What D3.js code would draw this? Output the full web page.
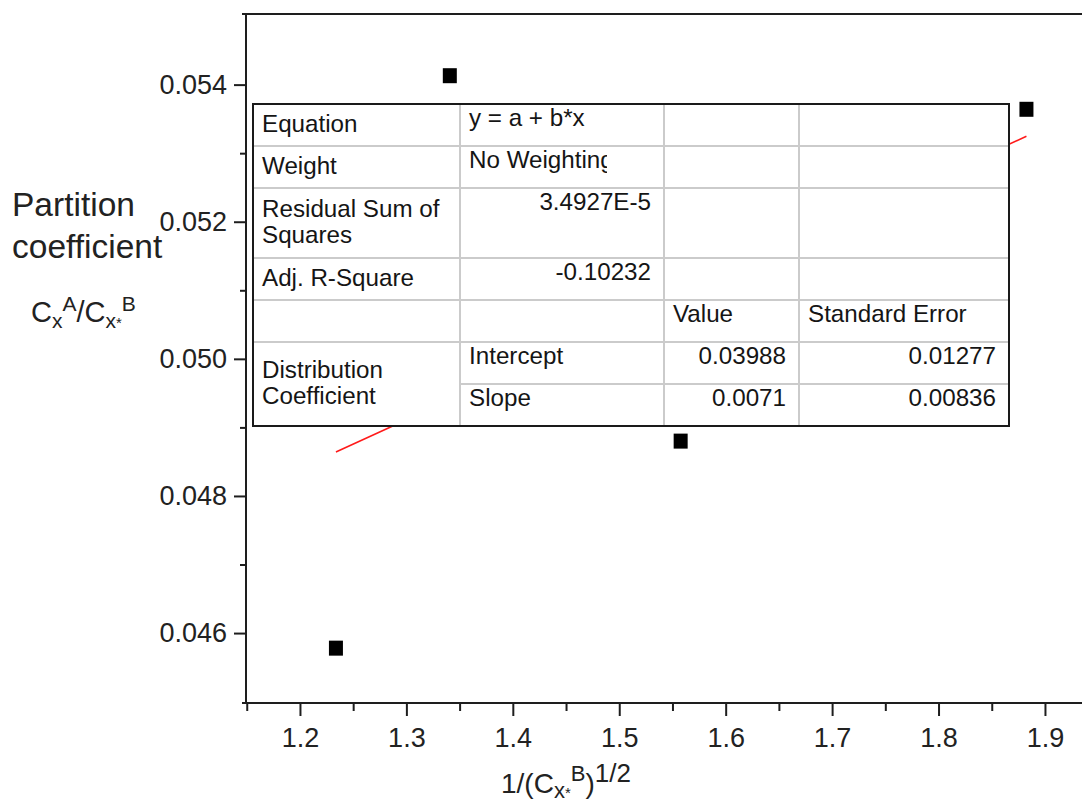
<!DOCTYPE html>
<html>
<head>
<meta charset="utf-8">
<script src="https://cdn.jsdelivr.net/npm/d3@7"></script>
<style>
    html, body { margin: 0; padding: 0; background: #fff; overflow: hidden; }
    svg { display: block; font-family: "Liberation Sans", Arial, sans-serif; }
</style>
</head>
<body>
<div id="chart"></div>
<script>
// measured points
const xValues = [1.2338, 1.3408, 1.5577, 1.8826];
const yValues = [0.04578, 0.05413, 0.04880, 0.05364];

// ticks
const xMajorTicks = [1.2, 1.3, 1.4, 1.5, 1.6, 1.7, 1.8, 1.9];
const xMinorTicks = [1.15, 1.25, 1.35, 1.45, 1.55, 1.65, 1.75, 1.85];
const yMajorTicks = [0.046, 0.048, 0.050, 0.052, 0.054];
const yMinorTicks = [0.047, 0.049, 0.051, 0.053];

// linear fit results
const fitIntercept = 0.03988;
const fitSlope = 0.0071;
const fitEquation = "y = a + b*x";
const fitWeight = "No Weighting";
const fitRss = "3.4927E-5";
const fitAdjR2 = "-0.10232";
const fitValues = ["0.03988", "0.0071"];
const fitErrors = ["0.01277", "0.00836"];

const W = 1082, H = 803;
const plot = { left: 246, right: 1082, top: 14, bottom: 703 };

const svg = d3.select("#chart").append("svg")
    .attr("width", W)
    .attr("height", H);

const x = d3.scaleLinear()
    .domain([1.1493, 1.9348])
    .range([plot.left, plot.right]);

const y = d3.scaleLinear()
    .domain([0.04498, 0.05503])
    .range([plot.bottom, plot.top]);

const axisColor = "#1e1e1e";

// y axis ticks
const yMajor = svg.append("g")
    .attr("transform", `translate(${plot.left},0)`)
    .call(d3.axisLeft(y).tickValues(yMajorTicks).tickSize(12).tickPadding(7)
        .tickFormat(d3.format(".3f")));
const yMinor = svg.append("g")
    .attr("transform", `translate(${plot.left},0)`)
    .call(d3.axisLeft(y).tickValues(yMinorTicks).tickSize(6).tickFormat(""));

// x axis ticks
const xMajor = svg.append("g")
    .attr("transform", `translate(0,${plot.bottom})`)
    .call(d3.axisBottom(x).tickValues(xMajorTicks).tickSize(13).tickPadding(12)
        .tickFormat(d3.format(".1f")));
const xMinor = svg.append("g")
    .attr("transform", `translate(0,${plot.bottom})`)
    .call(d3.axisBottom(x).tickValues(xMinorTicks).tickSize(8).tickFormat(""));

[yMajor, yMinor, xMajor, xMinor].forEach(g => {
    g.select(".domain").remove();
    g.selectAll(".tick line").attr("stroke", axisColor).attr("stroke-width", 2);
    g.selectAll(".tick text")
        .attr("fill", "#222")
        .style("font-size", "27px")
        .style("font-family", "'Liberation Sans', Arial, sans-serif");
});

// frame
svg.append("line").attr("x1", plot.left).attr("x2", plot.left).attr("y1", plot.top - 1).attr("y2", plot.bottom + 1)
    .attr("stroke", axisColor).attr("stroke-width", 2);
svg.append("line").attr("x1", plot.left - 4).attr("x2", plot.right).attr("y1", plot.bottom).attr("y2", plot.bottom)
    .attr("stroke", axisColor).attr("stroke-width", 2);
svg.append("line").attr("x1", plot.left - 4).attr("x2", plot.right).attr("y1", plot.top).attr("y2", plot.top)
    .attr("stroke", axisColor).attr("stroke-width", 2);

// fit line
const xExt = d3.extent(xValues);
svg.append("line")
    .attr("x1", x(xExt[0])).attr("y1", y(fitIntercept + fitSlope * xExt[0]))
    .attr("x2", x(xExt[1])).attr("y2", y(fitIntercept + fitSlope * xExt[1]))
    .attr("stroke", "#ff1a1a")
    .attr("stroke-width", 1.6);

// results table
const colX = [253, 460, 664, 799, 1009];
const rowY = [104, 146, 188, 258, 300, 342, 384, 426];

const cells = [
    { r: 0, c: 0, lines: ["Equation"] },
    { r: 0, c: 1, lines: [fitEquation] },
    { r: 1, c: 0, lines: ["Weight"] },
    { r: 1, c: 1, lines: [fitWeight], clip: true },
    { r: 2, c: 0, lines: ["Residual Sum of", "Squares"] },
    { r: 2, c: 1, lines: [fitRss], end: true },
    { r: 3, c: 0, lines: ["Adj. R-Square"] },
    { r: 3, c: 1, lines: [fitAdjR2], end: true },
    { r: 4, c: 2, lines: ["Value"] },
    { r: 4, c: 3, lines: ["Standard Error"] },
    { r: 5, c: 0, rs: 2, lines: ["Distribution", "Coefficient"] },
    { r: 5, c: 1, lines: ["Intercept"] },
    { r: 5, c: 2, lines: [fitValues[0]], end: true },
    { r: 5, c: 3, lines: [fitErrors[0]], end: true },
    { r: 6, c: 1, lines: ["Slope"] },
    { r: 6, c: 2, lines: [fitValues[1]], end: true },
    { r: 6, c: 3, lines: [fitErrors[1]], end: true }
];

const table = svg.append("g").attr("class", "fit-table");

table.append("rect")
    .attr("x", colX[0]).attr("y", rowY[0])
    .attr("width", colX[4] - colX[0]).attr("height", rowY[7] - rowY[0])
    .attr("fill", "#fff");

const gridColor = "#cbcbcb";
colX.slice(1, 4).forEach(cx => {
    table.append("line").attr("x1", cx).attr("x2", cx).attr("y1", rowY[0]).attr("y2", rowY[7])
        .attr("stroke", gridColor).attr("stroke-width", 2);
});
rowY.slice(1, 7).forEach((ry, i) => {
    const x0 = (i + 1 === 6) ? colX[1] : colX[0];
    table.append("line").attr("x1", x0).attr("x2", colX[4]).attr("y1", ry).attr("y2", ry)
        .attr("stroke", gridColor).attr("stroke-width", 2);
});

table.append("rect")
    .attr("x", colX[0]).attr("y", rowY[0])
    .attr("width", colX[4] - colX[0]).attr("height", rowY[7] - rowY[0])
    .attr("fill", "none")
    .attr("stroke", "#1a1a1a")
    .attr("stroke-width", 2);

// the weighting text is cut short, as in the source table
svg.append("defs").append("clipPath").attr("id", "weight-clip")
    .append("rect").attr("x", colX[1]).attr("y", rowY[1]).attr("width", 607 - colX[1]).attr("height", rowY[2] - rowY[1]);

cells.forEach(d => {
    const rs = d.rs || 1;
    const y0 = rowY[d.r], y1 = rowY[d.r + rs];
    const tx = d.end ? colX[d.c + 1] - 13 : colX[d.c] + 9;
    let by;
    if (d.c === 0) {
        by = (y0 + y1) / 2 + 7 - (d.lines.length - 1) * 13;
    } else {
        by = y0 + 22;
    }
    const t = table.append("text")
        .attr("x", tx)
        .attr("y", by)
        .attr("text-anchor", d.end ? "end" : "start")
        .attr("fill", "#151515")
        .style("font-size", "24.2px");
    if (d.clip) t.attr("clip-path", "url(#weight-clip)");
    d.lines.forEach((ln, i) => {
        t.append("tspan").attr("x", tx).attr("dy", i === 0 ? 0 : 26).text(ln);
    });
});

// points
svg.append("g").selectAll("rect")
    .data(xValues.map((v, i) => ({ x: v, y: yValues[i] })))
    .join("rect")
    .attr("x", d => x(d.x) - 7)
    .attr("y", d => y(d.y) - 7.5)
    .attr("width", 14)
    .attr("height", 15)
    .attr("fill", "#000");

// y axis title
svg.append("text")
    .attr("x", 12).attr("y", 216)
    .attr("fill", "#222")
    .style("font-size", "33.5px")
    .text("Partition");
svg.append("text")
    .attr("x", 12).attr("y", 258)
    .attr("fill", "#222")
    .style("font-size", "33.5px")
    .text("coefficient");

const yLab = svg.append("text")
    .attr("x", 31).attr("y", 322)
    .attr("fill", "#222")
    .style("font-size", "29px");
yLab.append("tspan").text("C");
yLab.append("tspan").attr("dy", 6).style("font-size", "21px").text("x");
yLab.append("tspan").attr("dy", -17).style("font-size", "21px").text("A");
yLab.append("tspan").attr("dy", 11).text("/C");
yLab.append("tspan").attr("dy", 6).style("font-size", "21px").text("x");
yLab.append("tspan").style("font-size", "15px").text("*");
yLab.append("tspan").attr("dy", -17).style("font-size", "21px").text("B");

// x axis title
const xLab = svg.append("text")
    .attr("x", 501).attr("y", 793)
    .attr("fill", "#222")
    .style("font-size", "28px");
xLab.append("tspan").text("1/(C");
xLab.append("tspan").attr("dy", 5).style("font-size", "22px").text("x");
xLab.append("tspan").style("font-size", "15px").text("*");
xLab.append("tspan").attr("dy", -17).style("font-size", "22px").text("B");
xLab.append("tspan").attr("dy", 12).text(")");
xLab.append("tspan").attr("dy", -11).style("font-size", "26px").text("1/2");
</script>
</body>
</html>
